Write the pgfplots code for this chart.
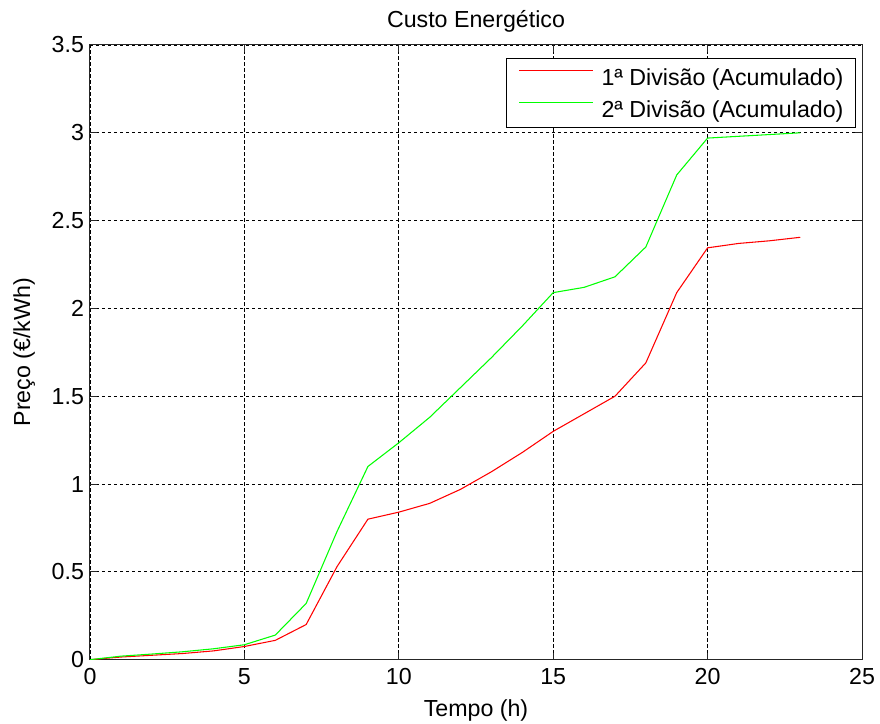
\documentclass[border=0pt]{standalone}
\usepackage{fontspec}
\setmainfont{Liberation Sans}
\usepackage{pgfplots}
\pgfplotsset{compat=1.18}
\usepackage{pgfplotstable}

% Accumulated energy cost per hour
\pgfplotstableread{
h  div1   div2
0  0.000  0.000
1  0.015  0.020
2  0.025  0.032
3  0.035  0.045
4  0.050  0.062
5  0.075  0.085
6  0.110  0.140
7  0.200  0.320
8  0.530  0.730
9  0.800  1.100
10 0.840  1.235
11 0.890  1.380
12 0.970  1.550
13 1.070  1.720
14 1.180  1.900
15 1.300  2.090
16 1.400  2.120
17 1.500  2.180
18 1.690  2.350
19 2.090  2.760
20 2.345  2.970
21 2.370  2.980
22 2.385  2.990
23 2.405  3.000
}\custo

\definecolor{mred}{RGB}{255,0,0}
\definecolor{mgreen}{RGB}{0,255,0}
\newcommand{\chartfont}{\fontsize{17.4}{20}\selectfont}

\begin{document}
\begin{tikzpicture}
\begin{axis}[
  name=ax,
  width=579pt, height=461pt,
  scale only axis,
  xmin=0, xmax=25, ymin=0, ymax=3.5,
  xtick={0,5,...,25},
  ytick={0,0.5,...,3.5},
  /pgf/number format/assume math mode=true,
  /pgf/number format/fixed,
  ticklabel style={font=\chartfont},
  xticklabel style={yshift=-3pt},
  yticklabel style={xshift=-1pt},
  title={Custo Energético},
  title style={font=\chartfont, at={(axis description cs:0.5,1.0147)}, anchor=base},
  xlabel={Tempo (h)},
  xlabel style={font=\chartfont, at={(axis description cs:0.5,-0.0927)}, anchor=base},
  ylabel={Preço (€/kWh)},
  ylabel style={font=\chartfont, at={(axis description cs:-0.0777,0.5)}, anchor=base},
  grid=major,
  major grid style={black, line width=0.6pt, dash pattern=on 2.5pt off 2pt},
  axis line style={black!85, line width=0.75pt},
  tick style={black!85, line width=0.75pt},
  major tick length=5pt,
  legend style={at={(1,1)}, anchor=north east, xshift=-4.5pt, yshift=-9.75pt,
    font=\chartfont, draw=black, line width=0.75pt,
    inner xsep=9pt, inner ysep=6pt, row sep=8pt, column sep=6pt,
    nodes={inner sep=0pt, text height=14pt, text depth=2pt}},
  legend cell align=left,
  legend image code/.code={\draw[#1, line width=0.8pt] (0pt,5pt) -- (55.5pt,5pt);},
]
\addplot[mred, line width=0.8pt] table[x=h, y=div1] {\custo};
\addlegendentry{1ª Divisão (Acumulado)}
\addplot[mgreen, line width=0.8pt] table[x=h, y=div2] {\custo};
\addlegendentry{2ª Divisão (Acumulado)}
\end{axis}
\pgfresetboundingbox
\path ([xshift=-67.5pt,yshift=-48pt]ax.south west) rectangle ([xshift=13.5pt,yshift=33.75pt]ax.north east);
\end{tikzpicture}
\end{document}
